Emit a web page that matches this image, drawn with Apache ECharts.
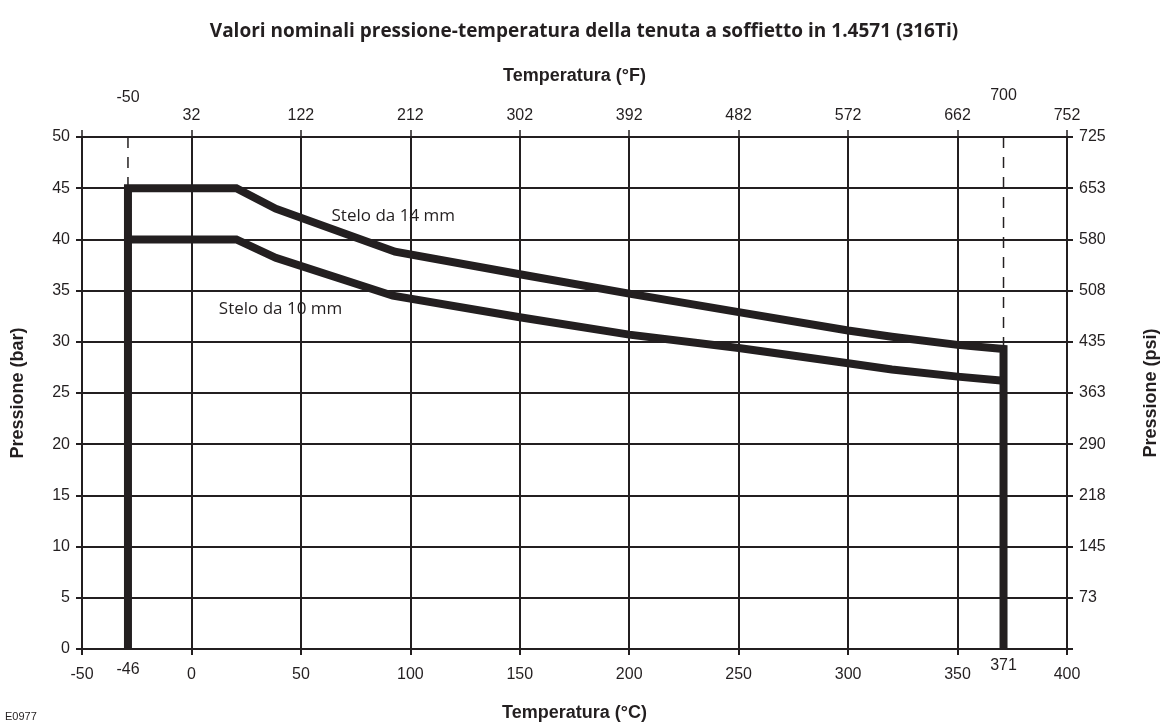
<!DOCTYPE html>
<html><head><meta charset="utf-8">
<script src="https://cdn.jsdelivr.net/npm/echarts@6/dist/echarts.min.js"></script>
<style>html,body{margin:0;padding:0;background:#fff}#c{width:1168px;height:727px}</style>
</head><body><div id="c"></div>
<script>
// ---- data ----
const titleText = 'Valori nominali pressione-temperatura della tenuta a soffietto in 1.4571 (316Ti)';
const celsiusTickLabels = ['-50','0','50','100','150','200','250','300','350','400'];
const fahrenheitTickLabels = ['','32','122','212','302','392','482','572','662','752'];
const barTickLabels = ['0','5','10','15','20','25','30','35','40','45','50'];
const psiTickLabels = ['','73','145','218','290','363','435','508','580','653','725'];
// limit positions as drawn on the chart (x in °C scale units)
const leftLimitX = -29;
const rightLimitX = 371;
const limitLabelsC = ['-46','371'];
const limitLabelsF = ['-50','700'];
// Stelo da 14 mm : [°C, bar]
const stem14 = [[-29,0],[-29,45],[20.5,45],[38.5,43],[93,38.8],[150,36.6],[200,34.7],[250,32.9],[300,31.1],[320,30.5],[350,29.7],[371,29.3],[371,0]];
// Stelo da 10 mm
const stem10 = [[-29,40],[20.5,40],[38.5,38.2],[92,34.5],[150,32.4],[200,30.7],[250,29.4],[300,27.9],[320,27.3],[350,26.6],[371,26.2]];
const dashLeft = [[-29,50],[-29,45]];
const dashRight = [[371,50],[371,29.3]];
const seriesLabels = [{name:'Stelo da 14 mm', pos:[64,42.3]},{name:'Stelo da 10 mm', pos:[12.5,33.2]}];

const INK = '#231f20';
const AX = 'Liberation Sans, Arial, sans-serif';
const chart = echarts.init(document.getElementById('c'), null, {renderer:'canvas'});
const idx = v => Math.round(v/5);
const cidx = v => Math.round((v+50)/50);
const lbl = (text, position, distance, extra) => Object.assign({show:true,formatter:text,position,distance,fontFamily:AX,fontSize:16,color:INK,opacity:1}, extra||{});

chart.setOption({
  animation:false,
  backgroundColor:'#fff',
  title:{text:titleText,left:'center',top:17,textStyle:{fontFamily:'Open Sans, Noto Sans, sans-serif',fontWeight:'bold',fontSize:19,color:INK}},
  grid:{left:82,right:98,top:137,bottom:71},
  xAxis:[
    {type:'value',position:'bottom',min:-50,max:400,interval:50,
     name:'Temperatura (°C)',nameLocation:'middle',nameGap:55,
     nameTextStyle:{fontFamily:AX,fontWeight:'bold',fontSize:18,color:INK},
     axisLine:{show:true,onZero:false,lineStyle:{color:INK,width:2}},
     axisTick:{show:true,length:6,lineStyle:{color:INK,width:2}},
     axisLabel:{margin:18,fontFamily:AX,fontSize:16,color:INK,formatter:v=>celsiusTickLabels[cidx(v)]},
     splitLine:{show:true,lineStyle:{color:INK,width:2}}},
    {type:'value',position:'top',min:-50,max:400,interval:50,
     name:'Temperatura (°F)',nameLocation:'middle',nameGap:52,
     nameTextStyle:{fontFamily:AX,fontWeight:'bold',fontSize:18,color:INK},
     axisLine:{show:true,onZero:false,lineStyle:{color:INK,width:2}},
     axisTick:{show:true,length:7,lineStyle:{color:INK,width:1.5}},
     axisLabel:{margin:13,fontFamily:AX,fontSize:16,color:INK,formatter:v=>fahrenheitTickLabels[cidx(v)]},
     splitLine:{show:false}}
  ],
  yAxis:[
    {type:'value',position:'left',min:0,max:50,interval:5,
     name:'Pressione (bar)',nameLocation:'middle',nameGap:55,nameRotate:90,
     nameTextStyle:{fontFamily:AX,fontWeight:'bold',fontSize:18,color:INK},
     axisLine:{show:true,onZero:false,lineStyle:{color:INK,width:2}},
     axisTick:{show:true,length:6,lineStyle:{color:INK,width:2}},
     axisLabel:{margin:12,fontFamily:AX,fontSize:16,color:INK,formatter:v=>barTickLabels[idx(v)]},
     splitLine:{show:true,lineStyle:{color:INK,width:2}}},
    {type:'value',position:'right',min:0,max:50,interval:5,
     name:'Pressione (psi)',nameLocation:'middle',nameGap:75,nameRotate:90,
     nameTextStyle:{fontFamily:AX,fontWeight:'bold',fontSize:18,color:INK},
     axisLine:{show:true,onZero:false,lineStyle:{color:INK,width:2}},
     axisTick:{show:true,length:6,lineStyle:{color:INK,width:2}},
     axisLabel:{margin:12,fontFamily:AX,fontSize:16,color:INK,formatter:v=>psiTickLabels[idx(v)]},
     splitLine:{show:false}}
  ],
  graphic:[{type:'text',left:5,top:711,style:{text:'E0977',font:'11px Liberation Sans, Arial',fill:INK}}],
  series:[
    {type:'line',data:dashLeft,symbol:'none',silent:true,lineStyle:{color:INK,width:1.5,type:[11,9]},z:3},
    {type:'line',data:dashRight,symbol:'none',silent:true,lineStyle:{color:INK,width:1.5,type:[11,9]},z:3},
    {type:'line',name:'14',data:stem14,symbol:'none',clip:false,lineStyle:{color:INK,width:8,join:'miter',cap:'butt'},z:5},
    {type:'line',name:'10',data:stem10,symbol:'none',clip:false,lineStyle:{color:INK,width:8,join:'miter',cap:'butt'},z:5},
    {type:'scatter',symbolSize:0,clip:false,silent:true,itemStyle:{opacity:1},
     data:seriesLabels.map(s=>({value:s.pos,label:lbl(s.name,'right',0,{fontFamily:'Open Sans, Noto Sans, sans-serif',fontSize:17})}))},
    {type:'scatter',symbolSize:0,clip:false,silent:true,itemStyle:{opacity:1},
     data:[
       {value:[leftLimitX,0],label:lbl(limitLabelsC[0],'bottom',13)},
       {value:[rightLimitX,0],label:lbl(limitLabelsC[1],'bottom',9)},
       {value:[leftLimitX,50],label:lbl(limitLabelsF[0],'top',31)},
       {value:[rightLimitX,50],label:lbl(limitLabelsF[1],'top',33)}
     ]}
  ]
});
</script></body></html>
